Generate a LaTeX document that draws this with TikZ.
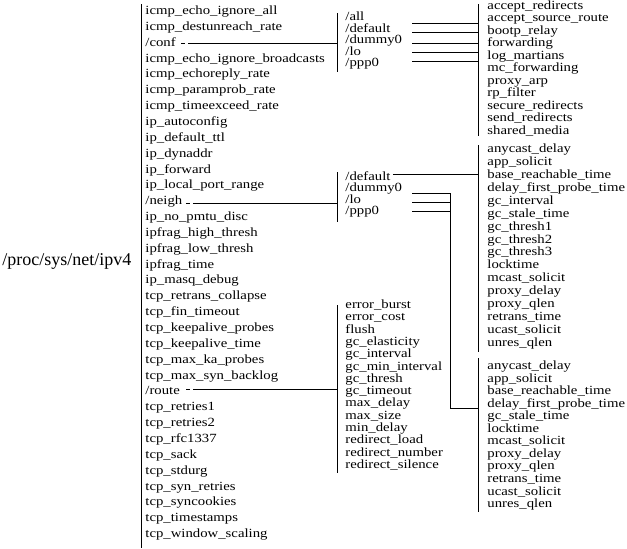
\documentclass[tikz,border=0pt]{standalone}
\usepackage{fontspec}
\setmainfont[FakeStretch=1.18]{Liberation Serif}
\newfontfamily\rootfont{Liberation Serif}
\begin{document}
\begin{tikzpicture}[x=1pt,y=-1pt,line width=0.9pt,
  lbl/.style={anchor=west,inner sep=0pt,font=\fontsize{12.5}{14}\selectfont,text height=0.72em,text depth=0.22em},
  conn/.style={draw,line width=0.9pt},
  gapconn/.style={draw,line width=0.9pt,dash pattern=on 4pt off 3pt on 400pt}]
\useasboundingbox (0,0) rectangle (627,549);
% root
\node[anchor=west,inner sep=0pt,font=\rootfont\fontsize{18}{20}\selectfont,text height=0.72em,text depth=0.22em] (root) at (2,263) {/proc/sys/net/ipv4};
% main bar
\coordinate (mbt) at (141,4);
\coordinate (mbb) at (141,548);
\draw[conn] (mbt) -- (mbb);
% column 1
\foreach \t [count=\i] in {icmp\_echo\_ignore\_all,icmp\_destunreach\_rate,/conf,icmp\_echo\_ignore\_broadcasts,icmp\_echoreply\_rate,icmp\_paramprob\_rate,icmp\_timeexceed\_rate,ip\_autoconfig,ip\_default\_ttl,ip\_dynaddr,ip\_forward,ip\_local\_port\_range,/neigh,ip\_no\_pmtu\_disc,ipfrag\_high\_thresh,ipfrag\_low\_thresh,ipfrag\_time,ip\_masq\_debug,tcp\_retrans\_collapse,tcp\_fin\_timeout,tcp\_keepalive\_probes,tcp\_keepalive\_time,tcp\_max\_ka\_probes,tcp\_max\_syn\_backlog,/route,tcp\_retries1,tcp\_retries2,tcp\_rfc1337,tcp\_sack,tcp\_stdurg,tcp\_syn\_retries,tcp\_syncookies,tcp\_timestamps,tcp\_window\_scaling}
  \node[lbl] (a\i) at (145,{12+(\i-1)*15.85}) {\t};
% second level bars
\coordinate (cbt) at (337,13);  \coordinate (cbb) at (337,72);
\coordinate (nbt) at (337,172); \coordinate (nbb) at (337,222);
\coordinate (rbt) at (337,305); \coordinate (rbb) at (337,473);
\draw[conn] (cbt) -- (cbb);
\draw[conn] (nbt) -- (nbb);
\draw[conn] (rbt) -- (rbb);
% connectors from column 1
\coordinate (cj) at (337,43);
\coordinate (nj) at (337,203);
\coordinate (rj) at (337,389);
\draw[gapconn] (a3.east |- cj) ++(5,0) -- (cj);
\draw[gapconn] (a13.east |- nj) ++(3,0) -- (nj);
\draw[gapconn] (a25.east |- rj) ++(6,0) -- (rj);
% conf children
\foreach \t [count=\i] in {/all,/default,/dummy0,/lo,/ppp0}
  \node[lbl] (c\i) at (345,{18+(\i-1)*11.5}) {\t};
% neigh children
\foreach \t [count=\i] in {/default,/dummy0,/lo,/ppp0}
  \node[lbl] (n\i) at (345,{178+(\i-1)*11.3}) {\t};
% route children
\foreach \t [count=\i] in {error\_burst,error\_cost,flush,gc\_elasticity,gc\_interval,gc\_min\_interval,gc\_thresh,gc\_timeout,max\_delay,max\_size,min\_delay,redirect\_load,redirect\_number,redirect\_silence}
  \node[lbl] (r\i) at (345,{306+(\i-1)*12.3}) {\t};
% third level bars
\coordinate (pbt) at (478,4);   \coordinate (pbb) at (478,136);
\coordinate (dbt) at (478,145); \coordinate (dbb) at (478,352);
\coordinate (obt) at (478,358); \coordinate (obb) at (478,512);
\draw[conn] (pbt) -- (pbb);
\draw[conn] (dbt) -- (dbb);
\draw[conn] (obt) -- (obb);
% conf leaves
\foreach \t [count=\i] in {accept\_redirects,accept\_source\_route,bootp\_relay,forwarding,log\_martians,mc\_forwarding,proxy\_arp,rp\_filter,secure\_redirects,send\_redirects,shared\_media}
  \node[lbl] (p\i) at (487,{6.5+(\i-1)*12.5}) {\t};
% neigh default leaves
\foreach \t [count=\i] in {anycast\_delay,app\_solicit,base\_reachable\_time,delay\_first\_probe\_time,gc\_interval,gc\_stale\_time,gc\_thresh1,gc\_thresh2,gc\_thresh3,locktime,mcast\_solicit,proxy\_delay,proxy\_qlen,retrans\_time,ucast\_solicit,unres\_qlen}
  \node[lbl] (d\i) at (487,{150+(\i-1)*12.93}) {\t};
% neigh other leaves
\foreach \t [count=\i] in {anycast\_delay,app\_solicit,base\_reachable\_time,delay\_first\_probe\_time,gc\_stale\_time,locktime,mcast\_solicit,proxy\_delay,proxy\_qlen,retrans\_time,ucast\_solicit,unres\_qlen}
  \node[lbl] (o\i) at (487,{367+(\i-1)*12.55}) {\t};
% conf -> leaves connectors
\foreach \y in {23,32,43,52,61}
  \draw[conn] (412,\y) -- (478,\y);
% neigh connectors
\coordinate (dj) at (478,174);
\draw[conn] (n1.east |- dj) ++(2,0) -- (dj);
\coordinate (jt) at (450,193);
\coordinate (jb) at (450,408);
\coordinate (oj) at (478,408);
\draw[conn] (412,193) -- (jt);
\draw[conn] (412,202) -- (450,202);
\draw[conn] (412,211) -- (450,211);
\draw[conn] (jt) -- (jb) -- (oj);
\end{tikzpicture}
\end{document}
